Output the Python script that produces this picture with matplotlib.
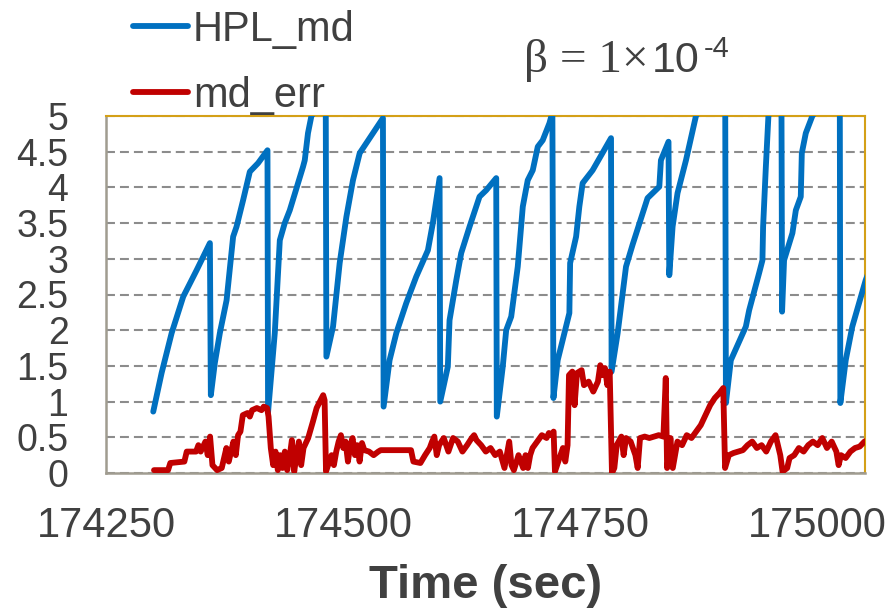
import matplotlib
matplotlib.use("Agg")
import matplotlib.pyplot as plt

# ---------------- data ----------------
hpl_time = [174299.8, 174308.6, 174319.2, 174331.4, 174345.5, 174359.5, 174360.5, 174364.7,
            174370.0, 174377.1, 174384.0, 174387.6, 174394.5, 174401.6, 174410.3, 174420.2,
            174420.8, 174427.9, 174433.2, 174438.4, 174443.7, 174457.7, 174459.5, 174462.9,
            174466.5, 174481.6, 174482.3, 174489.3, 174496.3, 174503.4, 174510.3, 174517.4,
            174541.9, 174542.6, 174548.9, 174556.0, 174566.5, 174577.0, 174589.3, 174594.5,
            174601.6, 174602.3, 174610.3, 174612.1, 174619.2, 174624.4, 174633.2, 174643.7,
            174650.7, 174661.3, 174661.9, 174668.2, 174671.8, 174677.1, 174684.0, 174689.3,
            174694.5, 174699.8, 174705.1, 174710.3, 174717.4, 174720.5, 174721.6, 174726.1,
            174738.4, 174739.2, 174745.5, 174748.9, 174752.4, 174762.9, 174782.3, 174782.9,
            174789.3, 174798.1, 174805.1, 174820.8, 174833.2, 174834.9, 174842.9, 174843.7,
            174847.2, 174852.4, 174861.3, 174871.8, 174902.6, 174903.4, 174908.6, 174924.4,
            174927.9, 174938.4, 174941.9, 174942.6, 174945.5, 174948.2, 174961.9, 174962.6,
            174964.7, 174973.5, 174977.1, 174982.3, 174983.4, 174987.6, 174994.5, 175023.4,
            175024.0, 175029.7, 175036.6, 175050.7, 175055.0]
hpl_md = [0.86, 1.40, 1.96, 2.47, 2.84, 3.22, 1.09, 1.54,
          1.96, 2.42, 3.31, 3.45, 3.82, 4.22, 4.34, 4.52,
          0.85, 1.96, 3.26, 3.50, 3.68, 4.29, 4.38, 4.76,
          5.00, 5.25, 1.63, 2.05, 2.94, 3.59, 4.10, 4.48,
          4.97, 0.93, 1.58, 1.96, 2.38, 2.75, 3.12, 3.50,
          4.13, 1.00, 1.49, 2.14, 2.70, 3.08, 3.45, 3.87,
          3.96, 4.13, 0.79, 1.49, 2.00, 2.19, 2.89, 3.73,
          4.10, 4.24, 4.57, 4.66, 4.90, 5.05, 1.05, 1.58,
          2.24, 2.94, 3.31, 3.73, 4.06, 4.24, 4.69, 1.42,
          1.96, 2.89, 3.20, 3.85, 4.01, 4.38, 4.64, 2.77,
          3.45, 3.92, 4.38, 5.00, 5.60, 0.98, 1.58, 2.05,
          2.28, 2.80, 2.98, 3.45, 4.29, 5.00, 5.40, 2.26,
          2.98, 3.36, 3.68, 3.87, 4.48, 4.76, 5.00, 5.50,
          0.98, 1.58, 2.05, 2.70, 2.85]

err_time = [174300.6, 174315.4, 174317.8, 174332.6, 174335.1, 174344.9, 174347.4, 174349.8,
            174354.8, 174357.2, 174359.7, 174362.2, 174367.1, 174372.0, 174374.5, 174376.9,
            174379.4, 174384.3, 174386.8, 174389.2, 174391.7, 174394.2, 174399.1, 174401.6,
            174404.0, 174409.0, 174413.9, 174416.3, 174419.8, 174421.3, 174423.7, 174426.2,
            174428.7, 174431.1, 174433.6, 174436.0, 174438.5, 174441.0, 174443.4, 174445.9,
            174448.4, 174450.8, 174453.3, 174455.7, 174458.2, 174463.1, 174468.1, 174472.0,
            174475.5, 174478.9, 174480.4, 174481.9, 174485.3, 174487.8, 174490.2, 174492.7,
            174495.2, 174497.6, 174500.1, 174502.5, 174505.0, 174507.5, 174509.9, 174512.4,
            174514.9, 174517.3, 174519.8, 174522.3, 174527.2, 174532.1, 174537.0, 174539.5,
            174571.5, 174574.0, 174581.4, 174586.3, 174591.2, 174593.7, 174596.1, 174598.6,
            174601.1, 174606.0, 174610.9, 174615.8, 174620.8, 174625.7, 174630.6, 174635.5,
            174638.0, 174640.5, 174645.4, 174650.3, 174655.3, 174660.2, 174665.1, 174670.0,
            174675.0, 174677.4, 174679.9, 174684.8, 174689.7, 174692.2, 174694.7, 174697.1,
            174699.6, 174704.5, 174709.4, 174714.4, 174716.8, 174719.3, 174721.8, 174723.2,
            174726.7, 174731.6, 174734.1, 174736.5, 174738.0, 174741.5, 174743.9, 174746.4,
            174751.3, 174753.8, 174758.7, 174763.6, 174768.5, 174771.0, 174773.5, 174775.9,
            174778.4, 174780.9, 174783.3, 174785.8, 174788.3, 174793.2, 174795.6, 174798.1,
            174803.0, 174808.0, 174810.4, 174812.9, 174817.8, 174822.7, 174827.7, 174832.6,
            174837.5, 174840.0, 174841.4, 174843.4, 174844.9, 174847.4, 174849.8, 174852.3,
            174857.2, 174862.1, 174867.1, 174872.0, 174876.9, 174881.9, 174886.8, 174891.7,
            174896.6, 174900.6, 174902.5, 174906.5, 174911.4, 174916.3, 174921.3, 174926.2,
            174931.1, 174936.0, 174941.0, 174945.9, 174950.8, 174955.7, 174958.2, 174960.7,
            174963.1, 174968.0, 174970.5, 174975.4, 174980.3, 174985.3, 174990.2, 174995.1,
            175000.1, 175005.0, 175009.9, 175014.9, 175019.8, 175022.2, 175024.7, 175029.6,
            175034.6, 175039.5, 175044.4, 175049.4, 175053.3]
md_err = [0.04, 0.04, 0.14, 0.16, 0.30, 0.30, 0.39, 0.30,
          0.44, 0.25, 0.51, 0.11, 0.04, 0.07, 0.21, 0.35,
          0.16, 0.44, 0.25, 0.53, 0.58, 0.81, 0.84, 0.79,
          0.88, 0.91, 0.88, 0.93, 0.91, 0.79, 0.35, 0.11,
          0.30, 0.04, 0.25, 0.07, 0.30, 0.04, 0.21, 0.46,
          0.02, 0.25, 0.44, 0.11, 0.35, 0.49, 0.72, 0.91,
          1.00, 1.09, 1.02, 0.02, 0.16, 0.25, 0.11, 0.30,
          0.44, 0.53, 0.35, 0.44, 0.16, 0.39, 0.49, 0.25,
          0.39, 0.16, 0.42, 0.32, 0.30, 0.25, 0.30, 0.32,
          0.32, 0.16, 0.14, 0.25, 0.35, 0.44, 0.51, 0.25,
          0.39, 0.49, 0.30, 0.49, 0.44, 0.30, 0.39, 0.49,
          0.53, 0.46, 0.39, 0.30, 0.35, 0.25, 0.30, 0.07,
          0.44, 0.11, 0.04, 0.25, 0.07, 0.25, 0.07, 0.25,
          0.35, 0.44, 0.53, 0.49, 0.56, 0.53, 0.58, 0.02,
          0.16, 0.35, 0.16, 0.39, 1.37, 1.42, 0.95, 1.40,
          1.44, 1.23, 1.28, 1.14, 1.28, 1.51, 1.37, 1.47,
          1.23, 1.42, 0.00, 0.07, 0.39, 0.51, 0.25, 0.49,
          0.44, 0.25, 0.07, 0.49, 0.51, 0.49, 0.51, 0.53,
          0.51, 1.33, 0.07, 0.25, 0.49, 0.07, 0.25, 0.44,
          0.39, 0.53, 0.49, 0.58, 0.67, 0.81, 0.95, 1.05,
          1.12, 1.19, 0.07, 0.25, 0.28, 0.30, 0.32, 0.39,
          0.44, 0.35, 0.39, 0.30, 0.44, 0.53, 0.39, 0.25,
          0.02, 0.07, 0.21, 0.25, 0.35, 0.30, 0.39, 0.44,
          0.39, 0.49, 0.35, 0.44, 0.30, 0.11, 0.25, 0.21,
          0.30, 0.35, 0.37, 0.44, 0.46]

x_ticks = [174250, 174500, 174750, 175000]
y_ticks = [0, 0.5, 1, 1.5, 2, 2.5, 3, 3.5, 4, 4.5, 5]
y_tick_labels = ["0", "0.5", "1", "1.5", "2", "2.5", "3", "3.5", "4", "4.5", "5"]

# ---------------- figure ----------------
plt.rcParams['font.family'] = ['Liberation Sans', 'DejaVu Sans']
W, H = 890, 609
fig = plt.figure(figsize=(W / 100, H / 100), dpi=100)
ax = fig.add_axes([106 / W, 1 - 473 / H, (865 - 106) / W, (473 - 116) / H])

text_col = '#404040'
blue = '#0070C0'
red = '#C00000'

l1, = ax.plot(hpl_time, hpl_md, color=blue, lw=4.2, solid_joinstyle='round',
              solid_capstyle='round', label='HPL_md', zorder=3)
l2, = ax.plot(err_time, md_err, color=red, lw=4.2, solid_joinstyle='round',
              solid_capstyle='round', label='md_err', zorder=4)

ax.set_xlim(174250, 175050)
ax.set_ylim(0, 5)
ax.set_xticks(x_ticks)
ax.set_xticklabels([str(v) for v in x_ticks])
ax.set_yticks(y_ticks)
ax.set_yticklabels(y_tick_labels)

ax.yaxis.grid(True, color='#8C8C8C', lw=1.5, linestyle=(0, (4.3, 2.4)), zorder=1)
ax.set_axisbelow(True)

ax.tick_params(axis='y', direction='in', length=6, width=1.2, color='#8C8C8C',
               labelsize=27, labelcolor=text_col, pad=27)
ax.tick_params(axis='x', length=0, labelsize=30, labelcolor=text_col, pad=24)

for s in ['top', 'right']:
    ax.spines[s].set_color('#D4A017')
    ax.spines[s].set_linewidth(1.5)
for s in ['left', 'bottom']:
    ax.spines[s].set_color('#A09C90')
    ax.spines[s].set_linewidth(1.8)

ax.set_xlabel('Time (sec)', fontsize=34, fontweight='bold', color=text_col, labelpad=13)

leg = fig.legend(handles=[l1, l2], loc='upper left',
                 bbox_to_anchor=(133 / W, 1 - 10 / H), frameon=False,
                 fontsize=30, handlelength=1.32, handletextpad=0.12,
                 labelspacing=0.62, borderpad=0, borderaxespad=0)
for t in leg.get_texts():
    t.set_color(text_col)

# beta annotation
fig.text(524 / W, 1 - 72 / H, 'β = 1×', family=['Liberation Serif', 'DejaVu Serif'],
         fontsize=34, color=text_col, ha='left', va='baseline')
fig.text(652 / W, 1 - 72 / H, '10', fontsize=31, color=text_col, ha='left', va='baseline')
fig.text(704 / W, 1 - 57 / H, '-4', fontsize=21, color=text_col, ha='left', va='baseline')

fig.savefig('out.png', dpi=100)
